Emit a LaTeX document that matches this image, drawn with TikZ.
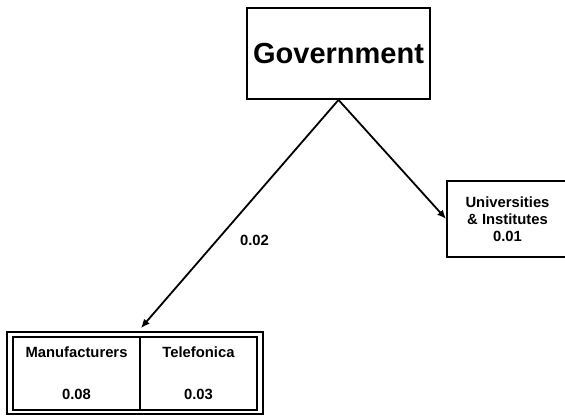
\documentclass[tikz,border=0pt]{standalone}
\usepackage{fontspec}
\setmainfont{Liberation Sans}
\usetikzlibrary{arrows.meta}
\usetikzlibrary{positioning}
\tikzset{box/.style = {draw, line width=0.9pt, inner sep=0pt, align=center,
                       font=\fontsize{7.4}{9}\selectfont\bfseries},
         flow/.style = {line width=0.9pt, -{Latex[length=4.5pt, width=3.8pt]}}}

\begin{document}
\begin{tikzpicture}[x=0.5pt, y=-0.5pt]
    \useasboundingbox (0, 0) rectangle (565, 417);

    \node [box, minimum width=91.5pt, minimum height=45.5pt,
           font=\fontsize{14.5}{17}\selectfont\bfseries] (gov) at (338.5, 53.5) {Government};

    \node [box, minimum width=60.5pt, minimum height=38pt] (univ) at (507.5, 219)
          {Universities\\[-0.6pt] \& Institutes\\[-0.6pt] 0.01};

    \node [box, minimum width=128pt, minimum height=41pt] (frame) at (135, 373) {};
    \node [box, minimum width=63.5pt, minimum height=36.5pt] (manuf) at (76.5, 373.5)
          {Manufacturers\\[11.8pt] 0.08};
    \node [box, minimum width=58.5pt, minimum height=36.5pt] (telef) at (198.5, 373.5)
          {Telefonica\\[11.8pt] 0.03};

    \draw [flow] (gov.south) -- ([yshift=1.5pt] manuf.north east |- frame.north);
    \draw [flow] (gov.south) -- (univ.west);

    \node [font=\fontsize{7.4}{9}\selectfont\bfseries] (share) at (254.5, 240) {0.02};
\end{tikzpicture}
\end{document}
